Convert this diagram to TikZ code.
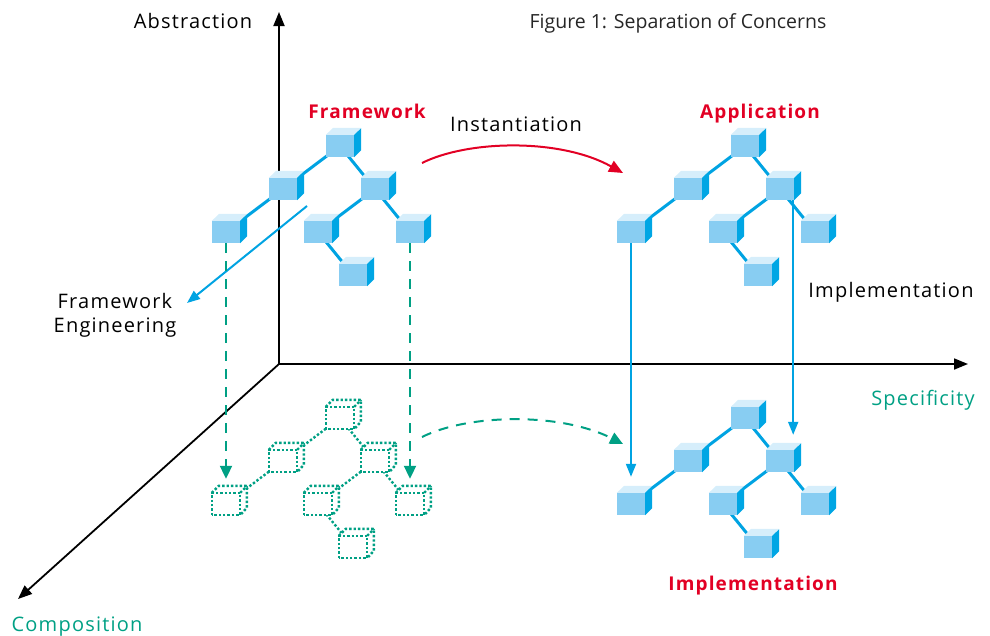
\documentclass[tikz,border=0pt]{standalone}
\usepackage{fontspec}
\setmainfont{Open Sans}[LetterSpace=6]
\newfontfamily\capfont{Open Sans}
\usetikzlibrary{arrows.meta,backgrounds}
\definecolor{cubefront}{RGB}{136,205,242}
\definecolor{cubetop}{RGB}{214,238,251}
\definecolor{cubeside}{RGB}{0,166,228}
\definecolor{bluel}{RGB}{0,163,226}
\definecolor{redl}{RGB}{226,0,36}
\definecolor{greenl}{RGB}{0,160,132}
\tikzset{
  bcube/.style={rectangle,minimum width=28pt,minimum height=22pt,inner sep=0pt,fill=cubefront},
  dcube/.style={rectangle,minimum width=28pt,minimum height=22pt,inner sep=0pt},
  dotline/.style={greenl,line width=2.4pt,dash pattern=on 2.4pt off 2pt},
  bedge/.style={bluel,line width=3pt},
  axis/.style={black,line width=1.8pt,-{Triangle[length=14pt,width=11pt]}},
  blarrow/.style={bluel,line width=2pt,-{Triangle[length=13pt,width=10pt]}},
  gdash/.style={greenl,line width=2pt,dash pattern=on 10pt off 8pt,-{Triangle[length=13pt,width=12pt]}},
  lbl/.style={inner sep=0pt,anchor=base,font=\fontsize{20}{24}\selectfont},
  rlbl/.style={inner sep=0pt,anchor=base,text=redl,font=\fontsize{19}{23}\selectfont\bfseries},
}
\newcommand\solidcube[2]{%
  \node[bcube] (#1) at (#2) {};
  \fill[cubetop] (#1.north west) -- (#1.north east) -- ++(7,-7) -- ++(-28,0) -- cycle;
  \fill[cubeside] (#1.north east) -- (#1.south east) -- ++(7,-7) -- ++(0,-22) -- cycle;}
\newcommand\dottedcube[2]{%
  \node[dcube] (#1) at (#2) {};
  \fill[white] (#1.south west) -- (#1.north west) -- ++(7,-7) -- ++(28,0) -- ++(0,22) -- (#1.south east) -- cycle;
  \draw[dotline] (#1.south west) rectangle (#1.north east);
  \draw[dotline] (#1.north west) -- ++(7,-7) -- ++(28,0) -- ++(0,22) -- (#1.south east);
  \draw[dotline] (#1.north east) -- ++(7,-7);}
\begin{document}
\begin{tikzpicture}[x=1pt,y=-1pt]
\useasboundingbox (0,0) rectangle (990,635);
% axes coordinates
\coordinate (O) at (279,364);
\coordinate (ytip) at (279,12);
\coordinate (xtip) at (968,364);
\coordinate (ztip) at (18,599);
% Framework tree
\solidcube{F1}{340,146}
\solidcube{F2}{283,189}
\solidcube{F3}{375,189}
\solidcube{F4}{226,232}
\solidcube{F5}{318,232}
\solidcube{F6}{410,232}
\solidcube{F7}{353,275}
% Application tree
\solidcube{A1}{745,146}
\solidcube{A2}{688,189}
\solidcube{A3}{780,189}
\solidcube{A4}{631,232}
\solidcube{A5}{723,232}
\solidcube{A6}{815,232}
\solidcube{A7}{758,275}
% Implementation tree
\solidcube{I1}{745,418}
\solidcube{I2}{688,461}
\solidcube{I3}{780,461}
\solidcube{I4}{631,504}
\solidcube{I5}{723,504}
\solidcube{I6}{815,504}
\solidcube{I7}{758,547}
% dotted tree
\dottedcube{D1}{340,418}
\dottedcube{D2}{283,461}
\dottedcube{D3}{375,461}
\dottedcube{D4}{226,504}
\dottedcube{D5}{318,504}
\dottedcube{D6}{410,504}
\dottedcube{D7}{353,547}
\begin{pgfonlayer}{background}
  \draw[axis] (O) -- (ytip);
  \draw[axis] (O) -- (xtip);
  \draw[axis] (O) -- (ztip);
  \foreach \t in {F,A,I}{
    \draw[bedge] (\t1.center) -- (\t2.center);
    \draw[bedge] (\t1.center) -- (\t3.center);
    \draw[bedge] (\t2.center) -- (\t4.center);
    \draw[bedge] (\t3.center) -- (\t5.center);
    \draw[bedge] (\t3.center) -- (\t6.center);
    \draw[bedge] (\t5.center) -- (\t7.center);
  }
  \draw[dotline] (D1.center) -- (D2.center);
  \draw[dotline] (D1.center) -- (D3.center);
  \draw[dotline] (D2.center) -- (D4.center);
  \draw[dotline] (D3.center) -- (D5.center);
  \draw[dotline] (D3.center) -- (D6.center);
  \draw[dotline] (D5.center) -- (D7.center);
\end{pgfonlayer}
% arrows
\coordinate (fe1) at (307,206);
\coordinate (fe2) at (187,303);
\draw[blarrow] (fe1) -- (fe2);
\coordinate (ri1) at (422,163);
\coordinate (ri2) at (623,173);
\draw[redl,line width=2pt,-{Triangle[length=14pt,width=12pt]}] (ri1) .. controls (468,140) and (560,138) .. (ri2);
\coordinate (gi1) at (422,437);
\coordinate (gi2) at (623,444);
\draw[gdash] (gi1) .. controls (468,414) and (560,412) .. (gi2);
\draw[gdash] (F4.south) -- ([yshift=14pt]D4.north);
\draw[gdash] (F6.south) -- ([yshift=14pt]D6.north);
\draw[blarrow] (A4.south) -- ([yshift=16pt]I4.north);
\draw[blarrow] ([xshift=-1pt]A3.south east) -- ([xshift=-1pt,yshift=15pt]I3.north east);
% labels
\node[lbl] (tabs) at (193,28) {Abstraction};
\node[inner sep=0pt,anchor=base,text=black!85,font=\capfont\fontsize{19.5}{22}\selectfont] (tcap) at (678,28) {Figure 1: Separation of Concerns};
\node[rlbl] (tfw) at (367,118) {Framework};
\node[lbl] (tinst) at (516,131) {Instantiation};
\node[rlbl] (tapp) at (760,118) {Application};
\node[lbl] (timpl) at (891,297) {Implementation};
\node[lbl,text=greenl] (tspec) at (923,405) {Specificity};
\node[lbl] (tfe1) at (115,308) {Framework};
\node[lbl] (tfe2) at (115,332) {Engineering};
\node[rlbl] (timpr) at (753,590) {Implementation};
\node[lbl,text=greenl] (tcomp) at (77,631) {Composition};
\end{tikzpicture}
\end{document}
